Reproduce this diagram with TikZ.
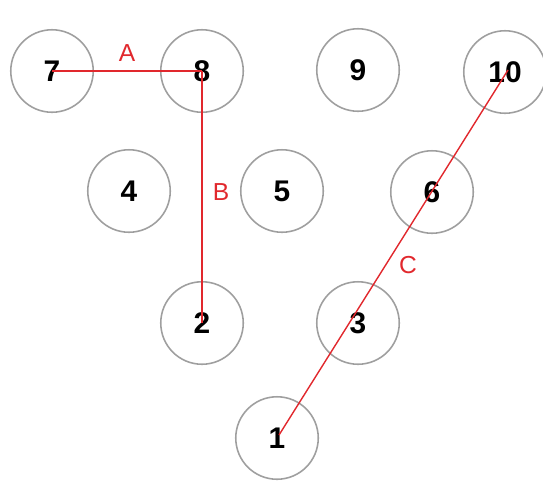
\documentclass[tikz,border=0pt]{standalone}
\usepackage{fontspec}
\setmainfont{Liberation Sans}
\usepackage{xcolor}
\usepackage{tikz}
\definecolor{linered}{RGB}{225,40,45}
\begin{document}
\begin{tikzpicture}[x=0.02cm,y=-0.02cm,
  ball/.style={shape=circle,draw=gray!75,line width=0.9pt,minimum size=1.65cm,inner sep=0pt,font=\fontsize{17}{20}\selectfont\bfseries},
  link/.style={draw=linered,line width=0.8pt},
  tag/.style={text=linered,font=\fontsize{14}{16}\selectfont}]
\useasboundingbox (0,0) rectangle (543,481);
\foreach \n/\x/\y in {7/52/71,8/202/71,9/358/70,10/505/72,4/129/191,5/282/191,6/432/192,2/202/323,3/358/323,1/277/438}
  \node[ball] (n\n) at (\x,\y) {\n};
\draw[link] (n7.center)--(n8.center);
\draw[link] (n8.center)--(n2.center);
\draw[link] ([xshift=0.04cm,yshift=0.06cm]n1.center)--([xshift=0.06cm,yshift=0.04cm]n10.center);
\node[tag] (la) at (127,53) {A};
\node[tag] (lb) at (221,192) {B};
\node[tag] (lc) at (408,265) {C};
\end{tikzpicture}
\end{document}
